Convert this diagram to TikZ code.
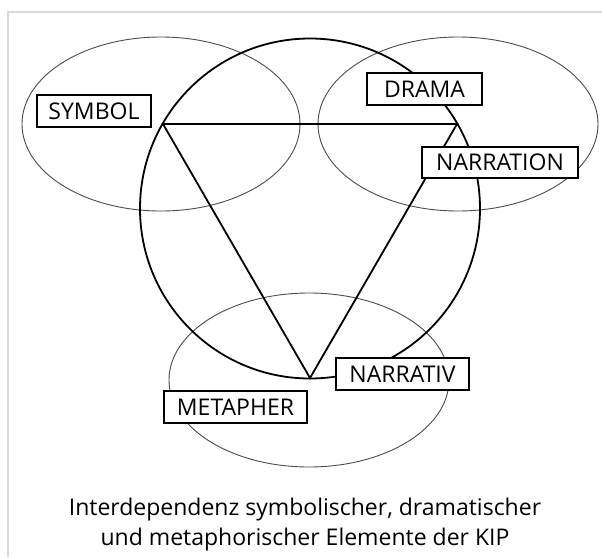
\documentclass[tikz,border=0pt]{standalone}
\usepackage{fontspec}
\setmainfont{Open Sans}
\begin{document}
\begin{tikzpicture}[x=1pt,y=-1pt,
  thinell/.style={draw=black!70,line width=0.9pt},
  bigline/.style={draw=black,line width=1.8pt},
  lbl/.style={draw=black,fill=white,line width=1.3pt,inner sep=0pt,font=\fontsize{23}{25}\selectfont},
  caption/.style={font=\fontsize{23}{30}\selectfont,align=center}]
\useasboundingbox (0,0) rectangle (602,557);
\fill[white] (0,0) rectangle (602,557);
\draw[black!15,line width=2.5pt] (8,557) -- (8,12) -- (602,12);
% small ellipses
\draw[thinell] (161,124) ellipse [x radius=139, y radius=87];
\draw[thinell] (458,124) ellipse [x radius=140, y radius=87];
\draw[thinell] (309,380) ellipse [x radius=140, y radius=87];
% big circle
\draw[bigline] (310,208.5) circle [radius=170];
% triangle vertices
\coordinate (vs) at (163,124);
\coordinate (vd) at (457,124);
\coordinate (vm) at (310,378);
\draw[bigline,line join=miter] (vs) -- (vd) -- (vm) -- cycle;
% labels
\node[lbl,minimum width=114pt,minimum height=32pt] (symbol) at (94,111) {SYMBOL};
\node[lbl,minimum width=115pt,minimum height=32pt] (drama) at (424.5,89) {DRAMA};
\node[lbl,minimum width=156pt,minimum height=31pt] (narration) at (500,162.5) {NARRATION};
\node[lbl,minimum width=133pt,minimum height=32pt] (narrativ) at (402.5,374) {NARRATIV};
\node[lbl,minimum width=143pt,minimum height=32pt] (metapher) at (235.5,407) {METAPHER};
\node[caption] (cap) at (305,525) {Interdependenz symbolischer, dramatischer\\und metaphorischer Elemente der KIP};
\end{tikzpicture}
\end{document}
